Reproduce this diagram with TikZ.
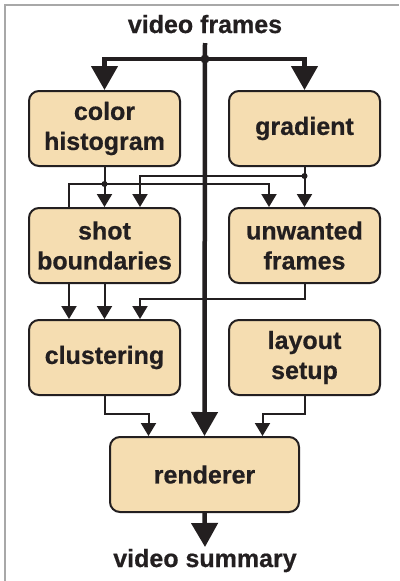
\documentclass[tikz,border=0pt]{standalone}
\usepackage{fontspec}
\setmainfont{Liberation Sans}[BoldFeatures={FakeBold=0.6}]
\usetikzlibrary{arrows.meta}
\definecolor{boxfill}{HTML}{F5DDB1}
\definecolor{ink}{HTML}{231F20}
\definecolor{frame}{HTML}{A8A8A8}
\tikzset{
  stagebox/.style={draw=ink, fill=boxfill, line width=2pt, rounded corners=10pt,
    minimum width=151pt, minimum height=75pt, align=center, text=ink,
    font=\fontsize{25}{30}\selectfont\bfseries, inner sep=0pt},
  label/.style={text=ink, font=\fontsize{25}{30}\selectfont\bfseries, inner sep=0pt},
  thinline/.style={draw=ink, line width=2pt},
  thinarrow/.style={draw=ink, line width=2pt, -{Triangle[width=15pt,length=13pt]}},
  bigline/.style={draw=ink, line width=4.5pt},
  bigarrow/.style={draw=ink, line width=4.5pt, -{Triangle[width=26pt,length=24pt]}},
  dot/.style={circle, fill=ink, inner sep=0pt, minimum size=#1},
}
\begin{document}
\begin{tikzpicture}[x=1pt,y=-1pt]
\useasboundingbox (0,0) rectangle (399,581);
\fill[white] (0,0) rectangle (399,581);
\draw[frame, line width=1.5pt] (5,581) -- (5,5) -- (399,5);

\node[label, anchor=base] (vf) at (205,33) {video frames};
\node[label, anchor=base] (vs) at (205,567) {video summary};

\node[stagebox] (ch) at (104.5,128.5) {color\\histogram};
\node[stagebox] (gr) at (304.5,128.5) {gradient};
\node[stagebox] (sb) at (104.5,245.5) {shot\\boundaries};
\node[stagebox] (uf) at (304.5,245.5) {unwanted\\frames};
\node[stagebox] (cl) at (104.5,357.5) {clustering};
\node[stagebox] (ls) at (304.5,357.5) {layout\\setup};
\node[stagebox, minimum width=189pt] (re) at (204.5,474.5) {renderer};

% main spine
\coordinate (top) at (205,43);
\coordinate (j) at (205,59);
\coordinate (vsend) at (205,547);
\draw[bigarrow] (top) -- (re.north);
\draw[bigarrow] (j) -| (ch.north);
\draw[bigarrow] (j) -| (gr.north);
\node[dot=9pt] at (j) {};

% from color histogram
\coordinate (d1) at (104.5,184);
\draw[thinline] (ch.south) -- (d1);
\draw[thinarrow] (d1) -- (sb.north);
\draw[thinline] (d1) -| ([xshift=-35.5pt]sb.north);
\draw[thinarrow] (d1) -| ([xshift=-35.5pt]uf.north);
\node[dot=6pt] at (d1) {};

% from gradient
\coordinate (d2) at (304.5,176);
\draw[thinline] (gr.south) -- (d2);
\draw[thinarrow] (d2) -- (uf.north);
\draw[thinarrow] (d2) -| ([xshift=35.5pt]sb.north);
\node[dot=6pt] at (d2) {};

% to clustering
\draw[thinarrow] ([xshift=-35.5pt]sb.south) -- ([xshift=-35.5pt]cl.north);
\draw[thinarrow] (sb.south) -- (cl.north);
\draw[thinarrow] (uf.south) -- ++(0,15) -| ([xshift=35.5pt]cl.north);

% to renderer
\draw[thinarrow] (cl.south) -- ++(0,18) -| ([xshift=-56pt]re.north);
\draw[thinarrow] (ls.south) -- ++(0,18) -| ([xshift=58pt]re.north);

% output
\draw[bigarrow] (re.south) -- (vsend);
\end{tikzpicture}
\end{document}
